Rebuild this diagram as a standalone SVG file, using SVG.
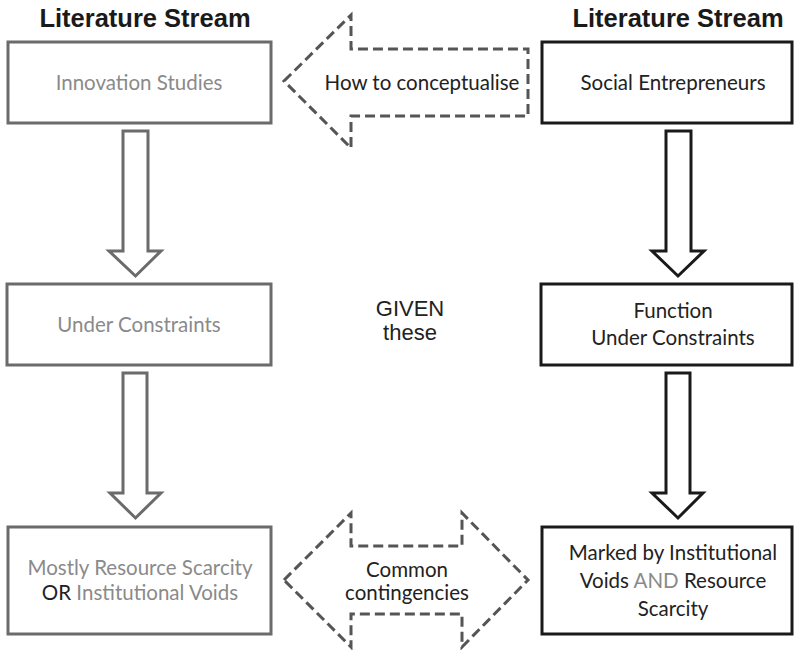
<svg xmlns="http://www.w3.org/2000/svg" width="800" height="650" viewBox="0 0 800 650">
<style>
.title{font-family:"Liberation Sans",Arial,sans-serif;font-weight:bold;font-size:25.5px;fill:#1a1a1a;text-anchor:middle}
.lbox{fill:#fff;stroke:#6b6b6b;stroke-width:3}
.rbox{fill:#fff;stroke:#1a1a1a;stroke-width:3}
.ltxt{font-family:Lato,"Open Sans",sans-serif;font-size:20.5px;fill:#8a8a8a;text-anchor:middle}
.rtxt{font-family:Lato,"Open Sans",sans-serif;font-size:20.5px;fill:#222;text-anchor:middle}
.dk{fill:#222}
.gy{fill:#8a8a8a}
.larr{fill:#fff;stroke:#6b6b6b;stroke-width:3;stroke-linejoin:miter}
.rarr{fill:#fff;stroke:#1a1a1a;stroke-width:3;stroke-linejoin:miter}
.dash{fill:#fff;stroke:#555;stroke-width:3;stroke-dasharray:10 5}
.mid{font-family:"Liberation Sans",Arial,sans-serif;font-size:22px;fill:#222;text-anchor:middle}
</style>
<rect width="800" height="650" fill="#fff"/>
<text class="title" x="145" y="27">Literature Stream</text>
<text class="title" x="678" y="27">Literature Stream</text>
<g id="connectors">
<path class="larr" d="M123,131 H148 V251 H161 L135.5,276 L109,251 H123 Z"/>
<path class="larr" d="M123,373 H147 V493 H161 L135.5,518 L110,493 H123 Z"/>
<path class="rarr" d="M666,131 H691 V251 H704 L678,276 L652,251 H666 Z"/>
<path class="rarr" d="M666,373 H690 V493 H703 L678,518 L652,493 H666 Z"/>
<g id="conceptualise">
<path class="dash" d="M284,81 L351,15 V49 H528 V116 H351 V148 Z"/>
<text class="rtxt" x="422" y="90">How to conceptualise</text>
</g>
<g id="contingencies">
<path class="dash" d="M284,580 L351,513 V546 H462 V513 L528,580 L462,647 V614 H351 V647 Z"/>
<text class="rtxt" x="407" y="577">Common</text>
<text class="rtxt" x="407" y="600">contingencies</text>
</g>
</g>
<g id="innovation">
<rect class="lbox" x="8" y="42" width="263" height="81"/>
<text class="ltxt" x="139" y="90">Innovation Studies</text>
</g>
<g id="under-left">
<rect class="lbox" x="7" y="284" width="264" height="81"/>
<text class="ltxt" x="139" y="332">Under Constraints</text>
</g>
<g id="scarcity-left">
<rect class="lbox" x="8" y="527" width="263" height="107"/>
<text class="ltxt" x="140" y="575">Mostly Resource Scarcity</text>
<text class="ltxt" x="140" y="600"><tspan class="dk">OR</tspan> Institutional Voids</text>
</g>
<g id="given">
<text class="mid" x="410" y="316">GIVEN</text>
<text class="mid" x="410" y="340">these</text>
</g>
<g id="social">
<rect class="rbox" x="542" y="42" width="250" height="81"/>
<text class="rtxt" x="673" y="90">Social Entrepreneurs</text>
</g>
<g id="function">
<rect class="rbox" x="541" y="284" width="251" height="81"/>
<text class="rtxt" x="673" y="318">Function</text>
<text class="rtxt" x="673" y="345">Under Constraints</text>
</g>
<g id="marked">
<rect class="rbox" x="542" y="527" width="250" height="107"/>
<text class="rtxt" x="673" y="560">Marked by Institutional</text>
<text class="rtxt" x="673" y="588">Voids <tspan class="gy">AND</tspan> Resource</text>
<text class="rtxt" x="673" y="616">Scarcity</text>
</g>
</svg>
